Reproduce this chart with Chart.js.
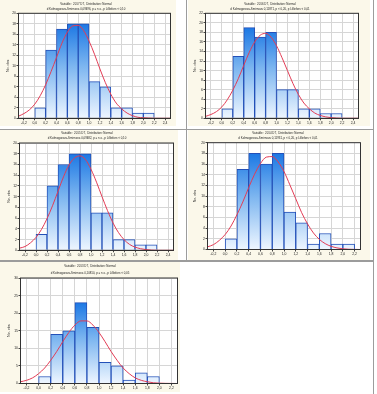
<!DOCTYPE html>
<html>
<head>
<meta charset="utf-8">
<script src="https://cdn.jsdelivr.net/npm/chart.js@4.4.1/dist/chart.umd.min.js"></script>
<style>
  html, body { margin: 0; padding: 0; background: #fff; }
  body { width: 377px; height: 394px; position: relative; overflow: hidden; }
  canvas { position: absolute; }
  .rule { position: absolute; background: #9c9c9c; }
</style>
</head>
<body>
<canvas id="c2017" width="176" height="126" style="left:0;top:0"></canvas>
<canvas id="c2016" width="182" height="126" style="left:188px;top:0"></canvas>
<canvas id="c2015" width="178" height="130" style="left:0;top:130px"></canvas>
<canvas id="c2014" width="182" height="130" style="left:188px;top:130px"></canvas>
<canvas id="c2013" width="180" height="130" style="left:0;top:262px"></canvas>

<div class="rule" style="left:185.5px;top:0;width:1.5px;height:261px"></div>
<div class="rule" style="left:0;top:128.5px;width:374px;height:1.5px"></div>
<div class="rule" style="left:0;top:260px;width:374px;height:1.5px"></div>
<div class="rule" style="left:372.5px;top:0;width:1.5px;height:394px"></div>

<script>
// histogram bins (0.2 wide), centres
const binCenters = [0.1, 0.3, 0.5, 0.7, 0.9, 1.1, 1.3, 1.5, 1.7, 1.9, 2.1];

const counts2017 = [2, 13, 17, 18, 18, 7, 6, 2, 2, 1, 1];
const counts2016 = [2, 13, 19, 17, 18, 6, 6, 2, 2, 1, 1];
const counts2015 = [3, 12, 16, 18, 18, 7, 7, 2, 2, 1, 1];
const counts2014 = [2, 15, 18, 16, 18, 7, 5, 1, 3, 1, 1];
const counts2013 = [2, 14, 15, 23, 16, 6, 5, 1, 3, 2];

// fitted normal curves, every 0.1
const curveX = [-0.3, -0.2, -0.1, 0.0, 0.1, 0.2, 0.3, 0.4, 0.5, 0.6, 0.7, 0.8, 0.9, 1.0,
  1.1, 1.2, 1.3, 1.4, 1.5, 1.6, 1.7, 1.8, 1.9, 2.0, 2.1, 2.2, 2.3, 2.4, 2.5];
const fit2017 = [0.4, 0.9, 1.6, 2.7, 4.3, 6.4, 8.9, 11.6, 14.3, 16.4, 17.6, 17.7, 16.7, 14.7,
  12.2, 9.4, 6.8, 4.6, 2.9, 1.8, 1.0, 0.5, 0.2, 0.1, 0.05, 0, 0, 0, 0];
const fit2016 = [0.4, 0.8, 1.4, 2.4, 3.9, 5.9, 8.3, 11.1, 13.8, 16.0, 17.4, 17.8, 17.0, 15.2,
  12.7, 10.0, 7.3, 5.0, 3.2, 2.0, 1.1, 0.6, 0.3, 0.13, 0.05, 0, 0, 0, 0];
const fit2015 = [0.4, 0.7, 1.4, 2.4, 3.9, 5.9, 8.3, 11.0, 13.7, 15.9, 17.2, 17.6, 16.9, 15.1,
  12.7, 10.0, 7.4, 5.1, 3.3, 2.0, 1.1, 0.6, 0.3, 0.13, 0.05, 0, 0, 0, 0];
const fit2014 = [0.5, 0.9, 1.7, 2.8, 4.4, 6.5, 8.9, 11.6, 14.1, 16.1, 17.3, 17.4, 16.4, 14.6,
  12.1, 9.5, 6.9, 4.8, 3.1, 1.9, 1.1, 0.6, 0.3, 0.13, 0.05, 0.02, 0];
const fit2013 = [0.5, 0.9, 1.6, 2.8, 4.4, 6.6, 9.1, 11.9, 14.5, 16.6, 17.8, 17.8, 16.6, 14.5,
  11.9, 9.1, 6.6, 4.4, 2.8, 1.6, 0.9, 0.5, 0.2, 0.1, 0.04, 0.02, 0];

const xTicksWide = [-0.2, 0, 0.2, 0.4, 0.6, 0.8, 1.0, 1.2, 1.4, 1.6, 1.8, 2.0, 2.2, 2.4];
const xTicksNarrow = [-0.2, 0, 0.2, 0.4, 0.6, 0.8, 1.0, 1.2, 1.4, 1.6, 1.8, 2.0, 2.2];
const yTicks20 = [0, 2, 4, 6, 8, 10, 12, 14, 16, 18, 20];
const yTicks22 = [0, 2, 4, 6, 8, 10, 12, 14, 16, 18, 20, 22];
const yTicks30 = [0, 5, 10, 15, 20, 25, 30];

const titles2017 = ["Variable:  2017 DT,  Distribution: Normal",
  "d Kolmogorova-Smirnova 0,09496, p = n.s., p Lilliefors < 0,10"];
const titles2016 = ["Variable:  2016 DT,  Distribution: Normal",
  "d Kolmogorova-Smirnova 0,11871, p < 0,20, p Lilliefors < 0,01"];
const titles2015 = ["Variable:  2015 DT,  Distribution: Normal",
  "d Kolmogorova-Smirnova 0,09482, p = n.s., p Lilliefors < 0,10"];
const titles2014 = ["Variable:  2014 DT,  Distribution: Normal",
  "d Kolmogorova-Smirnova 0,11931, p < 0,20, p Lilliefors < 0,01"];
const titles2013 = ["Variable:  2013 DT,  Distribution: Normal",
  "d Kolmogorova-Smirnova 0,10810, p = n.s., p Lilliefors < 0,05"];

Chart.defaults.font.family = "'Liberation Sans', Arial, sans-serif";
Chart.defaults.color = "#222";

// cream panel, white plot, dark frame, two-line caption
const statPanel = {
  id: "statPanel",
  beforeDraw(chart) {
    const { ctx, chartArea: a, width, height } = chart;
    ctx.save();
    ctx.fillStyle = "#fbf8ea";
    ctx.fillRect(0, 0, width, height);
    ctx.fillStyle = "#fff";
    ctx.fillRect(a.left, a.top, a.right - a.left, a.bottom - a.top);
    ctx.restore();
  },
  afterDraw(chart, args, opts) {
    const { ctx, chartArea: a } = chart;
    ctx.save();
    ctx.strokeStyle = "#333";
    ctx.lineWidth = 1;
    ctx.strokeRect(a.left, a.top, a.right - a.left, a.bottom - a.top);
    ctx.fillStyle = "#222";
    ctx.font = "2.9px 'Liberation Sans', Arial, sans-serif";
    ctx.textAlign = "center";
    ctx.textBaseline = "middle";
    ctx.fillText(opts.lines[0], opts.x, opts.y1);
    ctx.fillText(opts.lines[1], opts.x, opts.y2);
    ctx.restore();
  }
};

function makePanel(id, counts, fit, xTicks, yTicks, titles, g) {
  const yMax = yTicks[yTicks.length - 1];
  const tallest = Math.max(...counts);
  new Chart(document.getElementById(id), {
    data: {
      datasets: [
        {
          type: "bar",
          data: counts.map((c, i) => ({ x: binCenters[i], y: c })),
          backgroundColor: (ctx) => {
            const chart = ctx.chart;
            const a = chart.chartArea;
            if (!a) return "#8cc0f0";
            const top = chart.scales.y.getPixelForValue(tallest);
            const grad = chart.ctx.createLinearGradient(0, top, 0, a.bottom);
            grad.addColorStop(0, "#1c78e4");
            grad.addColorStop(0.45, "#7db6f0");
            grad.addColorStop(1, "#eef6ff");
            return grad;
          },
          borderColor: "#2350b8",
          borderWidth: 1,
          barPercentage: 1,
          categoryPercentage: 1,
          order: 2
        },
        {
          type: "line",
          data: fit.map((v, i) => ({ x: curveX[i], y: v })),
          borderColor: "#e23c55",
          borderWidth: 1,
          pointRadius: 0,
          cubicInterpolationMode: "monotone",
          order: 1
        }
      ]
    },
    options: {
      responsive: false,
      animation: false,
      layout: { padding: { left: 0, top: g.top, right: g.right, bottom: 0 } },
      plugins: {
        legend: { display: false },
        tooltip: { enabled: false },
        statPanel: { lines: titles, x: g.tx, y1: g.ty1, y2: g.ty2 }
      },
      scales: {
        x: {
          type: "linear",
          min: -0.3,
          max: g.xMax,
          offset: false,
          afterBuildTicks: (s) => { s.ticks = xTicks.map((v) => ({ value: v })); },
          afterFit: (s) => { s.height = g.bottom; },
          grid: { offset: false, color: "#d6d6d6", lineWidth: 1, tickLength: 2, tickColor: "#444" },
          border: { color: "#333" },
          ticks: {
            font: { size: 3.4 },
            padding: 0.6,
            maxRotation: 0,
            autoSkip: false,
            callback: (v) => v.toFixed(1).replace(".", ",")
          }
        },
        y: {
          min: 0,
          max: yMax,
          afterBuildTicks: (s) => { s.ticks = yTicks.map((v) => ({ value: v })); },
          afterFit: (s) => { s.width = g.left; },
          grid: { color: "#d6d6d6", lineWidth: 1, tickLength: 2, tickColor: "#444" },
          border: { color: "#333" },
          ticks: { font: { size: 3.4 }, padding: 0.6, autoSkip: false },
          title: {
            display: true,
            text: "No. obs",
            font: { size: 3.6 },
            padding: { top: g.yTitle - 2.2, bottom: 0 }
          }
        }
      }
    },
    plugins: [statPanel]
  });
}

makePanel("c2017", counts2017, fit2017, xTicksWide, yTicks20, titles2017,
  { left: 18.5, top: 13.3, right: 5.5, bottom: 7.7, xMax: 2.5, tx: 86, ty1: 4.7, ty2: 9.4, yTitle: 7.7 });
makePanel("c2016", counts2016, fit2016, xTicksWide, yTicks22, titles2016,
  { left: 17.5, top: 13.3, right: 11.5, bottom: 7.7, xMax: 2.5, tx: 82, ty1: 4.7, ty2: 9.4, yTitle: 6.7 });
makePanel("c2015", counts2015, fit2015, xTicksWide, yTicks20, titles2015,
  { left: 19.5, top: 13, right: 4.5, bottom: 9.7, xMax: 2.5, tx: 87, ty1: 3.3, ty2: 8, yTitle: 9 });
makePanel("c2014", counts2014, fit2014, xTicksNarrow, yTicks20, titles2014,
  { left: 19.5, top: 12.7, right: 9.5, bottom: 10.5, xMax: 2.3, tx: 90, ty1: 3.3, ty2: 8, yTitle: 7.3 });
makePanel("c2013", counts2013, fit2013, xTicksNarrow, yTicks30, titles2013,
  { left: 20.5, top: 16, right: 2.5, bottom: 8.5, xMax: 2.3, tx: 90, ty1: 4.7, ty2: 11.3, yTitle: 9 });
</script>
</body>
</html>
